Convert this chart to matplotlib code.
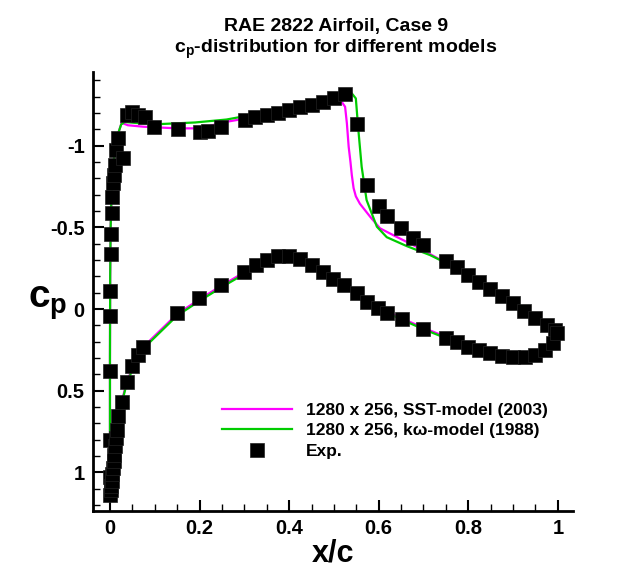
import numpy as np
import matplotlib as mpl
mpl.use('Agg')
import matplotlib.pyplot as plt
from matplotlib.ticker import MultipleLocator, FuncFormatter

plt.rcParams['font.family'] = ['Liberation Sans', 'DejaVu Sans']
plt.rcParams['font.weight'] = 'bold'
plt.rcParams['mathtext.fontset'] = 'custom'
plt.rcParams['mathtext.rm'] = 'Liberation Sans:bold'
plt.rcParams['mathtext.bf'] = 'Liberation Sans:bold'
plt.rcParams['mathtext.it'] = 'Liberation Sans:bold'

# ---- SST-model (2003), upper and lower surface
sst_up_x = [0.0005, 0.0, 0.0, 0.0005, 0.0015, 0.004, 0.008, 0.013, 0.019, 0.026, 0.04, 0.075,
            0.15, 0.2, 0.26, 0.3, 0.4, 0.5, 0.517, 0.525, 0.529, 0.533, 0.537, 0.540, 0.544,
            0.549, 0.558, 0.581, 0.603, 0.64, 0.692, 0.752, 0.797, 0.856, 0.9, 0.95, 0.98, 1.0]
sst_up_cp = [1.1, 0.8, 0.3, -0.2, -0.5, -0.75, -0.9, -1.0, -1.08, -1.14, -1.125, -1.116,
             -1.106, -1.106, -1.146, -1.165, -1.22, -1.26, -1.27, -1.238, -1.137, -0.993, -0.9, -0.82, -0.74,
             -0.69, -0.645, -0.565, -0.494, -0.442, -0.371, -0.28, -0.218, -0.11, -0.045, 0.045, 0.11, 0.18]
sst_lo_x = [0.0005, 0.003, 0.008, 0.015, 0.026, 0.037, 0.05, 0.065, 0.09, 0.15, 0.2, 0.25, 0.3,
            0.35, 0.38, 0.4, 0.43, 0.45, 0.5, 0.55, 0.6, 0.65, 0.7, 0.75, 0.8, 0.85, 0.9, 0.93,
            0.97, 0.99, 1.0]
sst_lo_cp = [1.1, 1.0, 0.85, 0.7, 0.57, 0.45, 0.36, 0.28, 0.19, 0.03, -0.06, -0.145, -0.225,
             -0.295, -0.318, -0.322, -0.303, -0.275, -0.185, -0.105, -0.01, 0.055, 0.115, 0.17, 0.225,
             0.265, 0.29, 0.295, 0.27, 0.22, 0.18]

# ---- k-omega model (1988)
kw_up_x = [0.0005, 0.0, 0.0, 0.0005, 0.0015, 0.004, 0.008, 0.013, 0.019, 0.025, 0.033, 0.075,
           0.11, 0.19, 0.26, 0.3, 0.4, 0.5, 0.52, 0.54, 0.549, 0.554, 0.562, 0.573, 0.596,
           0.618, 0.663, 0.715, 0.752, 0.8, 0.85, 0.9, 0.95, 0.98, 1.0]
kw_up_cp = [1.1, 0.8, 0.3, -0.2, -0.5, -0.75, -0.9, -1.0, -1.08, -1.13, -1.145, -1.135,
            -1.132, -1.142, -1.16, -1.18, -1.235, -1.295, -1.315, -1.32, -1.289, -1.116, -0.871, -0.667, -0.504,
            -0.44, -0.385, -0.33, -0.28, -0.215, -0.135, -0.05, 0.04, 0.11, 0.18]
kw_lo_x = sst_lo_x
kw_lo_cp = [1.1, 1.0, 0.86, 0.71, 0.58, 0.46, 0.37, 0.29, 0.2, 0.04, -0.05, -0.135, -0.215,
            -0.285, -0.308, -0.312, -0.295, -0.267, -0.178, -0.098, -0.002, 0.063, 0.123, 0.178, 0.232,
            0.272, 0.298, 0.303, 0.278, 0.226, 0.18]

# ---- experiment
exp_up_x = [0.0, 0.0, 0.0, 0.0, 0.002, 0.003, 0.004, 0.005, 0.007, 0.009, 0.011, 0.014, 0.018,
            0.029, 0.037, 0.05, 0.063, 0.078, 0.099, 0.151, 0.201, 0.219, 0.249, 0.301, 0.324,
            0.35, 0.376, 0.4, 0.424, 0.45, 0.476, 0.501, 0.525, 0.551, 0.575, 0.6, 0.619, 0.65,
            0.677, 0.7, 0.75, 0.774, 0.8, 0.825, 0.849, 0.875, 0.9, 0.925, 0.95, 0.975, 0.994]
exp_up_cp = [0.8, 0.378, 0.041, -0.108, -0.335, -0.459, -0.586, -0.687, -0.769, -0.82, -0.881, -0.973, -1.045,
             -0.922, -1.187, -1.207, -1.187, -1.177, -1.116, -1.102, -1.085, -1.091, -1.116, -1.157, -1.173,
             -1.187, -1.201, -1.218, -1.234, -1.248, -1.269, -1.289, -1.316, -1.13, -0.759, -0.632, -0.569, -0.498,
             -0.436, -0.392, -0.296, -0.255, -0.208, -0.167, -0.121, -0.08, -0.035, 0.01, 0.055, 0.098, 0.13]
exp_lo_x = [0.0, 0.001, 0.002, 0.003, 0.004, 0.005, 0.007, 0.008, 0.010, 0.011, 0.013, 0.015,
            0.018, 0.026, 0.037, 0.05, 0.063, 0.074, 0.15, 0.199, 0.249, 0.3, 0.326, 0.35, 0.376,
            0.4, 0.424, 0.45, 0.475, 0.499, 0.523, 0.551, 0.575, 0.599, 0.618, 0.651, 0.7, 0.75,
            0.774, 0.8, 0.825, 0.849, 0.875, 0.901, 0.927, 0.949, 0.972, 0.989, 0.998]
exp_lo_cp = [1.03, 1.14, 1.11, 1.08, 1.05, 1.01, 0.97, 0.93, 0.89, 0.84, 0.79, 0.74,
             0.653, 0.571, 0.445, 0.347, 0.282, 0.231, 0.023, -0.065, -0.147, -0.224, -0.269, -0.3, -0.324,
             -0.324, -0.304, -0.269, -0.228, -0.182, -0.145, -0.096, -0.045, -0.004, 0.026, 0.063, 0.124, 0.179,
             0.2, 0.231, 0.251, 0.271, 0.288, 0.296, 0.296, 0.282, 0.251, 0.21, 0.149]


def main():
    magenta = '#ff00ff'
    green = '#00cc00'

    fig = plt.figure(figsize=(6.41, 5.73), dpi=100)
    ax = fig.add_axes([0.145, 0.1087, 0.749, 0.7651])

    ax.plot(sst_lo_x[::-1] + sst_up_x, sst_lo_cp[::-1] + sst_up_cp, '-', color=magenta, lw=1.6,
            label='1280 x 256, SST-model (2003)', zorder=2)
    ax.plot(kw_lo_x[::-1] + kw_up_x, kw_lo_cp[::-1] + kw_up_cp, '-', color=green, lw=1.6,
            label='1280 x 256, k\u03c9-model (1988)', zorder=3)
    ax.plot(exp_up_x + exp_lo_x, exp_up_cp + exp_lo_cp, 's', color='k', ms=10, mec='#222222',
            mew=0.5, label='Exp.', zorder=4)

    ax.set_xlim(-0.038, 1.034)
    ax.set_ylim(1.234, -1.449)

    ax.xaxis.set_major_locator(MultipleLocator(0.2))
    ax.xaxis.set_minor_locator(MultipleLocator(0.05))
    ax.yaxis.set_major_locator(MultipleLocator(0.5))
    ax.yaxis.set_minor_locator(MultipleLocator(0.1))
    fmt = FuncFormatter(lambda v, p: '{0:g}'.format(round(v, 3)) if abs(v) > 1e-9 else '0')
    ax.xaxis.set_major_formatter(fmt)
    ax.yaxis.set_major_formatter(fmt)

    ax.tick_params(axis='both', which='major', direction='in', length=8, width=1.5,
                   labelsize=14.5, pad=6)
    ax.tick_params(axis='both', which='minor', direction='in', length=5, width=1.0)
    for lab in ax.get_xticklabels() + ax.get_yticklabels():
        lab.set_fontweight('bold')

    ax.spines['right'].set_visible(False)
    ax.spines['top'].set_visible(False)
    ax.spines['left'].set_linewidth(2)
    ax.spines['bottom'].set_linewidth(2)

    ax.set_xlabel('x/c', fontsize=22, fontweight='bold', labelpad=0)
    ax.set_ylabel(r'$\mathbf{c_p}$', fontsize=28, fontweight='bold', rotation=0)
    ax.yaxis.set_label_coords(-0.095, 0.43)

    fig.text(0.524, 0.953, 'RAE 2822 Airfoil, Case 9', ha='center', va='center',
             fontsize=14, fontweight='bold')
    fig.text(0.524, 0.914, r'$\mathbf{c_p}$-distribution for different models', ha='center',
             va='center', fontsize=14, fontweight='bold')

    ax.legend(loc='upper left', bbox_to_anchor=(0.255, 0.262), frameon=False, fontsize=12.5,
              handlelength=4.0, handletextpad=0.8, labelspacing=0.3, borderaxespad=0)

    plt.savefig('out.png', dpi=100)


if __name__ == '__main__':
    main()
